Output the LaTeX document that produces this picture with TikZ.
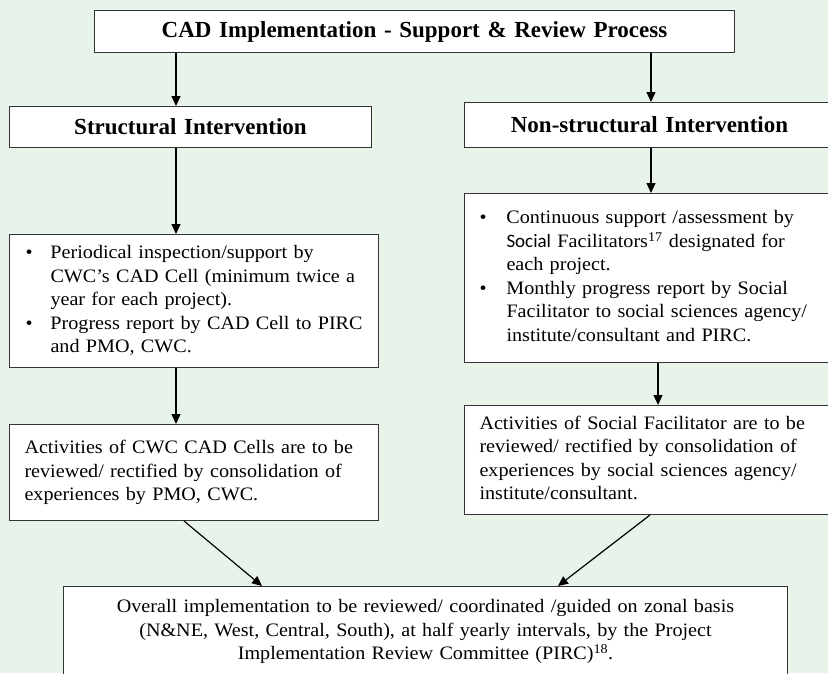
\documentclass[tikz,border=0pt]{standalone}
\usepackage{fontspec}
\setmainfont{Liberation Serif}[FakeStretch=1.06]
\newfontfamily\headfont{Liberation Serif}
\newfontfamily\sansfont{Carlito}
\usetikzlibrary{arrows.meta}
\definecolor{bggreen}{RGB}{232,243,234}
\newcommand\bodysize{\fontsize{19}{23.5}\selectfont}
\newcommand\headsize{\headfont\bfseries\fontsize{23}{27}\selectfont}

\begin{document}
\begin{tikzpicture}[x=1pt, y=-1pt]
	\tikzset{
		block/.style = {rectangle, draw=black!80, fill=white, line width=1pt, anchor=north west, inner ysep=0pt, font=\bodysize},
		head/.style = {block, align=center, font=\headsize},
		arr/.style = {-{Triangle[length=10pt, width=9pt]}, line width=1.2pt}
	}
	\fill[bggreen] (0,0) rectangle (828,673);
	\useasboundingbox (0,0) rectangle (828,673);

	\node[head, minimum width=640pt, minimum height=42pt, text width=620pt, inner xsep=10pt] (title) at (94,10)
		{CAD Implementation - Support \& Review Process};
	\node[head, minimum width=362pt, minimum height=41pt, text width=342pt, inner xsep=10pt] (struct) at (9,106)
		{Structural Intervention};
	\node[head, minimum width=370pt, minimum height=45pt, text width=350pt, inner xsep=10pt] (nonstruct) at (464,102)
		{Non-structural Intervention};

	\node[block, align=left, minimum width=369pt, minimum height=133pt, text width=337pt, inner xsep=16pt] (lbul) at (9,234)
		{\begin{tabular}{@{}p{25pt}@{}l@{}}
		\textbullet & Periodical inspection/support by\\
		& CWC’s CAD Cell (minimum twice a\\
		& year for each project).\\
		\textbullet & Progress report by CAD Cell to PIRC\\
		& and PMO, CWC.
		\end{tabular}};
	\node[block, align=left, minimum width=370pt, minimum height=169pt, text width=340pt, inner xsep=15pt] (rbul) at (464,193)
		{\begin{tabular}{@{}p{27pt}@{}l@{}}
		\textbullet & Continuous support /assessment by\\
		& {\sansfont Social} Facilitators\textsuperscript{17} designated for\\
		& each project.\\
		\textbullet & Monthly progress report by Social\\
		& Facilitator to social sciences agency/\\
		& institute/consultant and PIRC.
		\end{tabular}};

	\node[block, align=left, minimum width=369pt, minimum height=96pt, text width=339pt, inner xsep=15pt] (lact) at (9,424)
		{\begin{tabular}{@{}l@{}}
		Activities of CWC CAD Cells are to be\\
		reviewed/ rectified by consolidation of\\
		experiences by PMO, CWC.
		\end{tabular}};
	\node[block, align=left, minimum width=370pt, minimum height=109pt, text width=340pt, inner xsep=15pt] (ract) at (464,405)
		{\begin{tabular}{@{}l@{}}
		Activities of Social Facilitator are to be\\
		reviewed/ rectified by consolidation of\\
		experiences by social sciences agency/\\
		institute/consultant.
		\end{tabular}};

	\node[block, align=center, minimum width=724pt, minimum height=90pt, text width=704pt, inner xsep=10pt] (review) at (63,586)
		{Overall implementation to be reviewed/ coordinated /guided on zonal basis\\(N\&NE, West, Central, South), at half yearly intervals, by the Project\\Implementation Review Committee (PIRC)\textsuperscript{18}.};

	\coordinate (lx) at (176,0);
	\coordinate (rx) at (651,0);
	\coordinate (rx2) at (658,0);
	\coordinate (lfrom) at (184,0);
	\coordinate (lto) at (262,0);
	\coordinate (rfrom) at (650,0);
	\coordinate (rto) at (558,0);

	\draw[arr] (title.south -| lx) -- (struct.north -| lx);
	\draw[arr] (title.south -| rx) -- (nonstruct.north -| rx);
	\draw[arr] (struct.south -| lx) -- (lbul.north -| lx);
	\draw[arr] (nonstruct.south -| rx) -- (rbul.north -| rx);
	\draw[arr] (lbul.south -| lx) -- (lact.north -| lx);
	\draw[arr] (rbul.south -| rx2) -- (ract.north -| rx2);
	\draw[arr] (lact.south -| lfrom) -- (review.north -| lto);
	\draw[arr] (ract.south -| rfrom) -- (review.north -| rto);
\end{tikzpicture}
\end{document}
